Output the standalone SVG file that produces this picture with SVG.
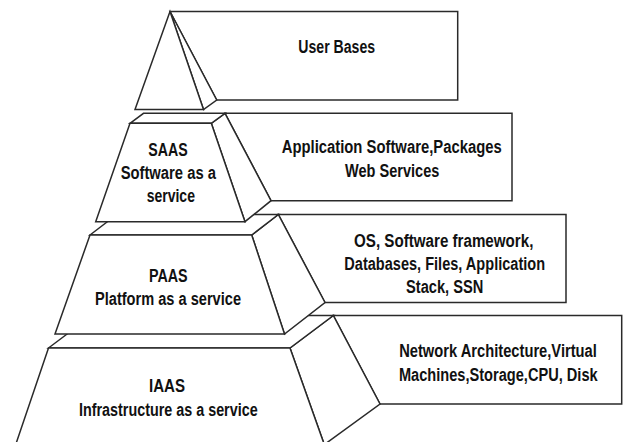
<svg xmlns="http://www.w3.org/2000/svg" width="625" height="442" viewBox="0 0 625 442">
<style>
.f{fill:#fff;stroke:#2a2a2a;stroke-width:1.5;stroke-linejoin:miter}
.t{font-family:"Liberation Sans Narrow","Liberation Sans",Arial,sans-serif;font-weight:bold;font-size:18px;fill:#111;text-anchor:middle}
</style>
<rect width="625" height="442" fill="#fff"/>
<g id="iaas">
<polygon class="f" points="333.3,315.5 621.7,315.5 621.7,404 380,404"/>
<polygon class="f" points="290,348 333.3,315.5 380,404 324.3,444.6"/>
<polygon class="f" points="48.5,348 91.8,315.5 333.3,315.5 290,348"/>
<polygon class="f" points="48.5,348 290,348 324.3,444.6 15.7,444.6"/>
<text class="t" x="167" y="392" textLength="36" lengthAdjust="spacingAndGlyphs">IAAS</text>
<text class="t" x="168.3" y="415.5" textLength="178.7" lengthAdjust="spacingAndGlyphs">Infrastructure as a service</text>
<text class="t" x="498" y="356.5" textLength="197.7" lengthAdjust="spacingAndGlyphs">Network Architecture,Virtual</text>
<text class="t" x="498.3" y="380.5" textLength="198.7" lengthAdjust="spacingAndGlyphs">Machines,Storage,CPU, Disk</text>
</g>
<g id="paas">
<polygon class="f" points="278.3,214.5 566,214.5 566,302.5 325,302.5"/>
<polygon class="f" points="251.7,235 278.3,214.5 325,302.5 284.5,334"/>
<polygon class="f" points="90,235 116.9,214.5 278.3,214.5 251.7,235"/>
<polygon class="f" points="90,235 251.7,235 284.5,334 55,334"/>
<text class="t" x="168.3" y="281.5" textLength="38.7" lengthAdjust="spacingAndGlyphs">PAAS</text>
<text class="t" x="168" y="304.5" textLength="146" lengthAdjust="spacingAndGlyphs">Platform as a service</text>
<text class="t" x="443.7" y="247" textLength="179.3" lengthAdjust="spacingAndGlyphs">OS, Software framework,</text>
<text class="t" x="444.7" y="270" textLength="200.7" lengthAdjust="spacingAndGlyphs">Databases, Files, Application</text>
<text class="t" x="444.7" y="292.5" textLength="77.3" lengthAdjust="spacingAndGlyphs">Stack, SSN</text>
</g>
<g id="saas">
<polygon class="f" points="225,113.3 512,113.3 512,200.7 271,200.7"/>
<polygon class="f" points="211.3,123.3 225,113.3 271,200.7 245,221.7"/>
<polygon class="f" points="130,123.3 143.5,113.3 225,113.3 211.3,123.3"/>
<polygon class="f" points="130,123.3 211.3,123.3 245,221.7 95.7,221.7"/>
<text class="t" x="168" y="156" textLength="39.3" lengthAdjust="spacingAndGlyphs">SAAS</text>
<text class="t" x="168.3" y="179" textLength="95.3" lengthAdjust="spacingAndGlyphs">Software as a</text>
<text class="t" x="170.8" y="202" textLength="48.3" lengthAdjust="spacingAndGlyphs">service</text>
<text class="t" x="391.7" y="152.5" textLength="220" lengthAdjust="spacingAndGlyphs">Application Software,Packages</text>
<text class="t" x="392.2" y="176.5" textLength="94.3" lengthAdjust="spacingAndGlyphs">Web Services</text>
</g>
<g id="user-bases">
<polygon class="f" points="170,11.5 457.7,11.5 457.7,100 216.7,100"/>
<polygon class="f" points="170,11.5 203.5,109.5 216.7,100"/>
<polygon class="f" points="170,11.5 135,109.5 203.5,109.5"/>
<text class="t" x="336.7" y="52.7" textLength="76.7" lengthAdjust="spacingAndGlyphs">User Bases</text>
</g>
<g id="connectors"></g>
</svg>
